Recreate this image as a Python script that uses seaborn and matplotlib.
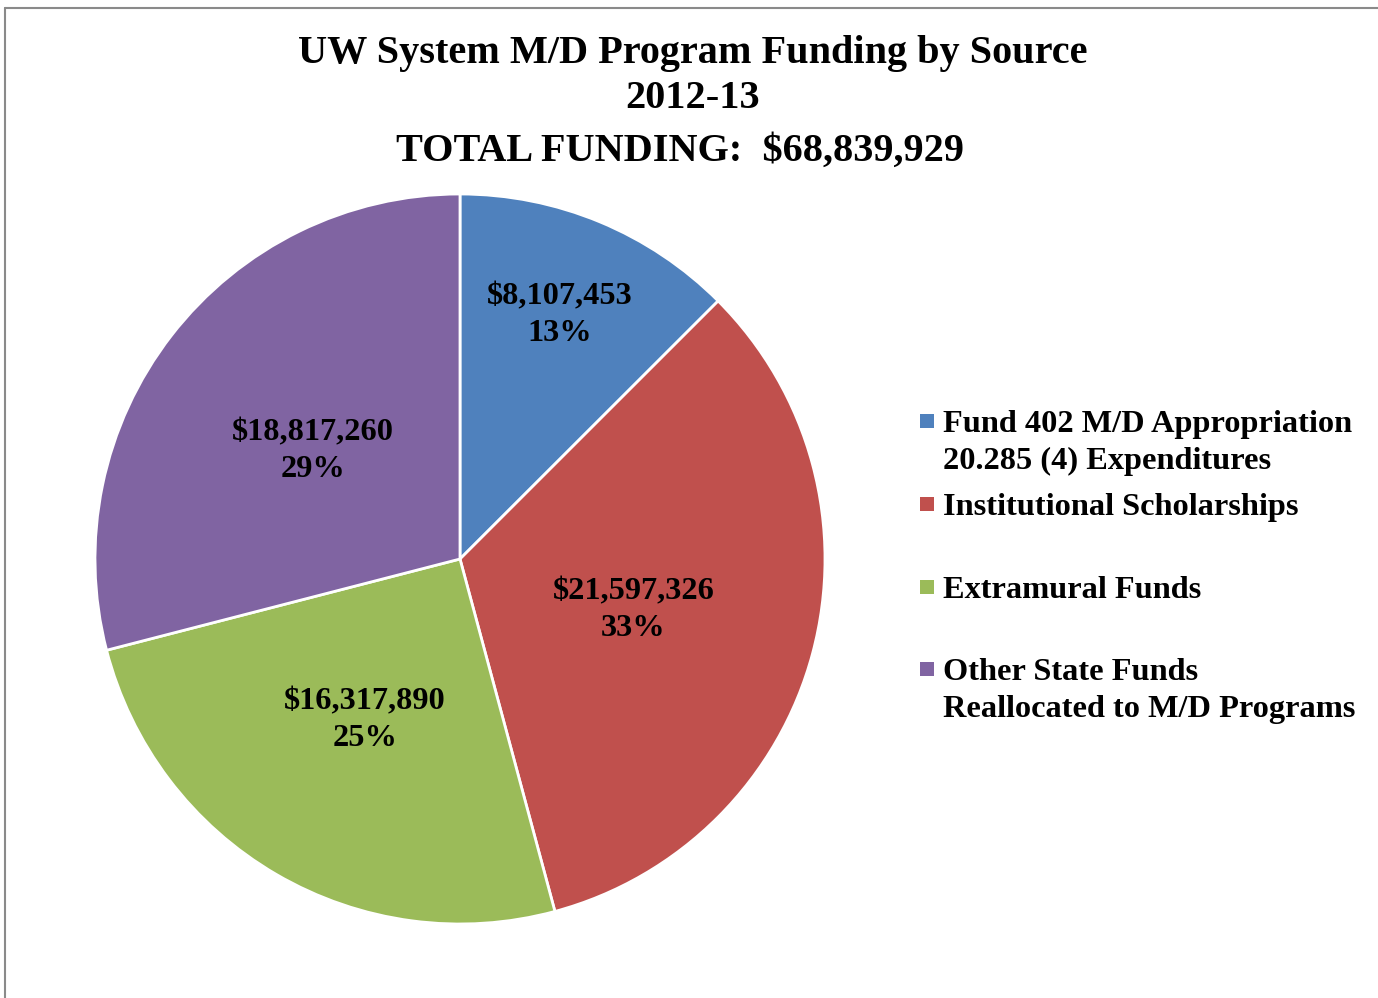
import matplotlib
matplotlib.use("Agg")
import matplotlib.pyplot as plt
import seaborn as sns
import numpy as np
from matplotlib.lines import Line2D
from matplotlib.patches import Rectangle

sns.set_style("white")
plt.rcParams['font.family'] = ['Liberation Serif', 'DejaVu Serif']
plt.rcParams['text.color'] = 'black'

sources = ["Fund 402 M/D Appropriation\n20.285 (4) Expenditures",
           "Institutional Scholarships",
           "Extramural Funds",
           "Other State Funds\nReallocated to M/D Programs"]
amounts = [8107453, 21597326, 16317890, 18817260]
pct_labels = ["13%", "33%", "25%", "29%"]
colors = ["#4F81BD", "#C0504D", "#9BBB59", "#8064A2"]

W, H = 1378, 998
fig = plt.figure(figsize=(W / 100, H / 100), dpi=100)

def fx(px):
    return px / W

def fy(py):
    return 1 - py / H

# pie area: centre (460, 559), radius 365 px
cx, cy, r = 460, 559, 365
ax = fig.add_axes([fx(cx - r), fy(cy + r), 2 * r / W, 2 * r / H])
wedges, _ = ax.pie(amounts, colors=colors, startangle=90, counterclock=False,
                   wedgeprops=dict(edgecolor="white", linewidth=2))
ax.set_xlim(-1, 1)
ax.set_ylim(-1, 1)
ax.set_aspect("auto")
ax.axis("off")

# data labels, Excel "best fit" style
label_dist = [0.735, 0.5, 0.5, 0.5]
for w, amt, pct, d in zip(wedges, amounts, pct_labels, label_dist):
    ang = np.deg2rad((w.theta1 + w.theta2) / 2)
    ax.text(d * np.cos(ang) - 0.008, d * np.sin(ang) - 0.01, f"${amt:,}\n{pct}",
            ha="center", va="center", fontsize=23.3, fontweight="bold",
            linespacing=1.35, color="black")

# title
fig.text(fx(693), fy(53), "UW System M/D Program Funding by Source",
         ha="center", va="center", fontsize=29, fontweight="bold")
fig.text(fx(693), fy(98), "2012-13",
         ha="center", va="center", fontsize=29, fontweight="bold")
fig.text(fx(680), fy(151), "TOTAL FUNDING:  $68,839,929",
         ha="center", va="center", fontsize=29, fontweight="bold")

# legend (Excel style: fixed slot, marker at first line)
leg_y = [421, 504, 587, 669]
for lab, col, y in zip(sources, colors, leg_y):
    fig.patches.append(Rectangle((fx(920), fy(y + 7)), 14 / W, 14 / H,
                                 transform=fig.transFigure, facecolor=col,
                                 edgecolor="none"))
    fig.text(fx(943), fy(y - 11), lab, ha="left", va="top", fontsize=23.3,
             fontweight="bold", linespacing=1.35)

# chart border (top and left edges visible)
fig.add_artist(Line2D([fx(5), fx(W)], [fy(8), fy(8)], color="#8a8a8a", lw=1.5))
fig.add_artist(Line2D([fx(5), fx(5)], [fy(8), 0], color="#8a8a8a", lw=1.5))

fig.savefig("out.png", dpi=100)
